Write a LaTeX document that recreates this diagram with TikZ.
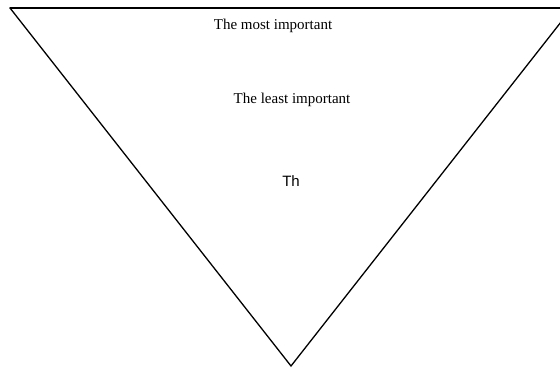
\documentclass[tikz,border=0pt]{standalone}
\usepackage{fontspec}
\setmainfont{Liberation Serif}
\newfontfamily\labelsans{Liberation Sans}
\begin{document}
\begin{tikzpicture}[x=1pt,y=-1pt,
  edge/.style={line width=1.3pt,black,line cap=round,line join=miter},
  serlabel/.style={font=\fontsize{15}{18}\selectfont,inner sep=0pt},
  sanlabel/.style={font=\labelsans\fontsize{15}{18}\selectfont,inner sep=0pt}]
\useasboundingbox (0,0) rectangle (560,369);
\clip (0,0) rectangle (560,369);
\coordinate (tl) at (10,8);
\coordinate (tr) at (572,8);
\coordinate (apex) at (291,366);
\draw[edge] (tl) -- (tr);
\draw[edge] (tl) -- (apex) -- (tr);
\node[serlabel] (most) at (273,26) {The most important};
\node[serlabel] (least) at (292,100) {The least important};
\node[sanlabel] (th) at (291,181) {Th};
\end{tikzpicture}
\end{document}
